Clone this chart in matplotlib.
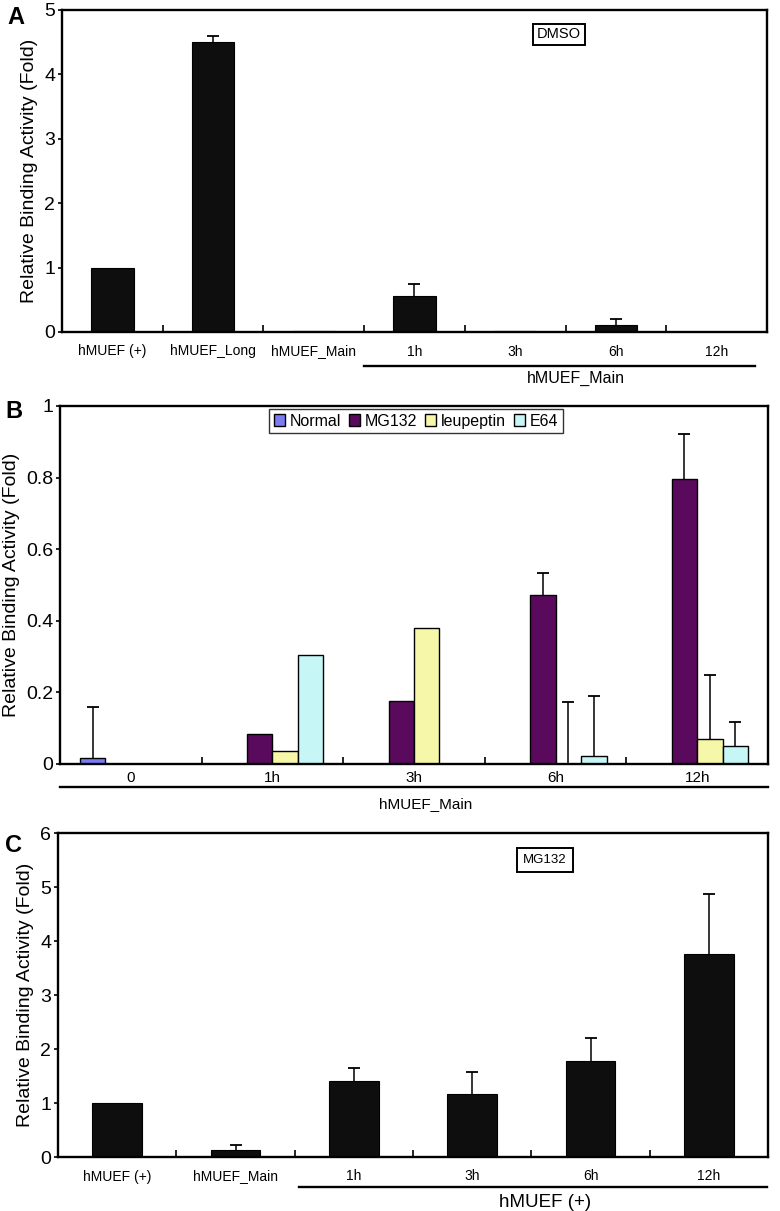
"""Relative binding activity, panels A, B, C"""

import numpy as np
import matplotlib
matplotlib.use('Agg')
import matplotlib.pyplot as plt
from matplotlib import font_manager

plt.rcParams['font.family'] = ['Liberation Sans', 'DejaVu Sans']

# narrow font for tick labels, if there is one
try:
    font_manager.findfont('Liberation Sans Narrow', fallback_to_default=False)
    narrow = ['Liberation Sans Narrow', 'Liberation Sans', 'DejaVu Sans']
except Exception:
    narrow = ['Liberation Sans', 'DejaVu Sans']

# Panel A
a_labels = ['hMUEF (+)', 'hMUEF_Long', 'hMUEF_Main', '1h', '3h', '6h', '12h']
a_values = [1.0, 4.5, 0.02, 0.56, 0.02, 0.11, 0.0]
a_errors = [0.0, 0.1, 0.0, 0.18, 0.0, 0.09, 0.0]

# Panel B
b_groups = ['0', '1h', '3h', '6h', '12h']
b_series = ['Normal', 'MG132', 'leupeptin', 'E64']
b_normal = [0.018, 0.0, 0.0, 0.0, 0.0]
b_mg132 = [0.0, 0.084, 0.177, 0.471, 0.796]
b_leupeptin = [0.0, 0.036, 0.379, 0.0, 0.07]
b_e64 = [0.0, 0.305, 0.0, 0.021, 0.05]
b_normal_err = [0.14, 0.0, 0.0, 0.0, 0.0]
b_mg132_err = [0.0, 0.0, 0.0, 0.063, 0.126]
b_leupeptin_err = [0.0, 0.0, 0.0, 0.172, 0.179]
b_e64_err = [0.0, 0.0, 0.0, 0.17, 0.067]
b_colors = ['#7b7cf2', '#5a0a5c', '#f7f7aa', '#c6f6f6']

# Panel C
c_labels = ['hMUEF (+)', 'hMUEF_Main', '1h', '3h', '6h', '12h']
c_values = [1.0, 0.13, 1.40, 1.16, 1.775, 3.76]
c_errors = [0.0, 0.1, 0.25, 0.41, 0.435, 1.11]

ylab = 'Relative Binding Activity (Fold)'

fig = plt.figure(figsize=(7.8, 12.11), dpi=100)
W, H = 780, 1211


def make_ax(left, right, top, bottom):
    ax = fig.add_axes([left / W, (H - bottom) / H, (right - left) / W, (bottom - top) / H])
    for s in ax.spines.values():
        s.set_linewidth(1.7)
    ax.tick_params(axis='y', direction='out', length=3, width=1.2, labelsize=14, pad=2)
    ax.tick_params(axis='x', which='major', length=0, pad=9)
    ax.tick_params(axis='x', which='minor', direction='in', length=5, width=1.2)
    ax.set_ylabel(ylab, fontsize=14, labelpad=4)
    return ax


def up_errors(ax, x, vals, errs):
    # only the upper half of the error bar, like in the figure
    x = np.asarray(x, dtype=float)
    vals = np.asarray(vals)
    errs = np.asarray(errs)
    m = errs > 0
    ax.vlines(x[m], vals[m], vals[m] + errs[m], color='black', lw=1.1, zorder=3)
    ax.plot(x[m], vals[m] + errs[m], ls='none', marker='_', ms=8, mew=1.3,
            color='black', zorder=3)


def simple_panel(ax, labels, values, errors, ymax):
    x = np.arange(len(labels))
    ax.bar(x, values, width=0.42, color='#0e0e0e', edgecolor='black', linewidth=0.8)
    up_errors(ax, x, values, errors)
    ax.set_xlim(-0.5, len(labels) - 0.5)
    ax.set_ylim(0, ymax)
    ax.set_yticks(range(0, ymax + 1))
    ax.set_yticklabels([str(v) for v in range(0, ymax + 1)], family=narrow)
    ax.set_xticks(x)
    ax.set_xticklabels(labels, fontsize=10, family=narrow)
    ax.set_xticks(x[:-1] + 0.5, minor=True)


# ---- A ----
axA = make_ax(62, 767, 10, 332)
simple_panel(axA, a_labels, a_values, a_errors, 5)
axA.text(0.705, 0.925, 'DMSO', transform=axA.transAxes, ha='center', va='center',
         fontsize=10.5, bbox=dict(boxstyle='square,pad=0.25', fc='white', ec='black', lw=1.4))
trA = axA.get_xaxis_transform()
axA.plot([2.5, 6.38], [-0.106, -0.106], color='black', lw=1.7, transform=trA, clip_on=False)
axA.text(4.6, -0.145, 'hMUEF_Main', transform=trA, ha='center', va='center',
         fontsize=11.5, family=narrow)
fig.text(7 / W, 1 - 17 / H, 'A', fontsize=17, fontweight='bold', ha='left', va='center')

# ---- B ----
axB = make_ax(60, 768, 406, 764)
xg = np.arange(len(b_groups))
bw = 0.18
b_vals = [b_normal, b_mg132, b_leupeptin, b_e64]
b_errs = [b_normal_err, b_mg132_err, b_leupeptin_err, b_e64_err]
for i, (name, vals, errs, col) in enumerate(zip(b_series, b_vals, b_errs, b_colors)):
    xs = xg + (i - 1.5) * bw
    axB.bar(xs, vals, width=bw, color=col, edgecolor='black', linewidth=1.0, label=name)
    up_errors(axB, xs, vals, errs)
axB.set_xlim(-0.5, len(b_groups) - 0.5)
axB.set_ylim(0, 1)
axB.set_yticks([0, 0.2, 0.4, 0.6, 0.8, 1.0])
axB.set_yticklabels(['0', '0.2', '0.4', '0.6', '0.8', '1'], family=narrow)
axB.set_xticks(xg)
axB.set_xticklabels(b_groups, fontsize=11, family=narrow)
axB.tick_params(axis='x', which='major', pad=5)
axB.set_xticks(xg[:-1] + 0.5, minor=True)
leg = axB.legend(loc='upper center', bbox_to_anchor=(0.503, 0.992), ncol=4,
                 frameon=True, fancybox=False, handlelength=0.7,
                 handleheight=0.7, handletextpad=0.3, columnspacing=0.5,
                 borderpad=0.3, borderaxespad=0, prop={'family': narrow, 'size': 11.5})
leg.get_frame().set_edgecolor('black')
leg.get_frame().set_linewidth(1.0)
trB = axB.get_xaxis_transform()
axB.plot([-0.5, 4.5], [-0.064, -0.064], color='black', lw=1.7, transform=trB, clip_on=False)
axB.text(2.08, -0.112, 'hMUEF_Main', transform=trB, ha='center', va='center',
         fontsize=11, family=narrow)
fig.text(5 / W, 1 - 412 / H, 'B', fontsize=17, fontweight='bold', ha='left', va='center')

# ---- C ----
axC = make_ax(58, 768, 833, 1157)
simple_panel(axC, c_labels, c_values, c_errors, 6)
axC.text(0.686, 0.918, 'MG132', transform=axC.transAxes, ha='center', va='center',
         fontsize=9.5, family=narrow,
         bbox=dict(boxstyle='square,pad=0.45', fc='white', ec='black', lw=1.4))
trC = axC.get_xaxis_transform()
axC.plot([1.537, 5.49], [-0.093, -0.093], color='black', lw=1.7, transform=trC, clip_on=False)
axC.text(3.62, -0.14, 'hMUEF (+)', transform=trC, ha='center', va='center',
         fontsize=13.5, family=narrow)
fig.text(5 / W, 1 - 845 / H, 'C', fontsize=17, fontweight='bold', ha='left', va='center')

fig.savefig('out.png', dpi=100)
